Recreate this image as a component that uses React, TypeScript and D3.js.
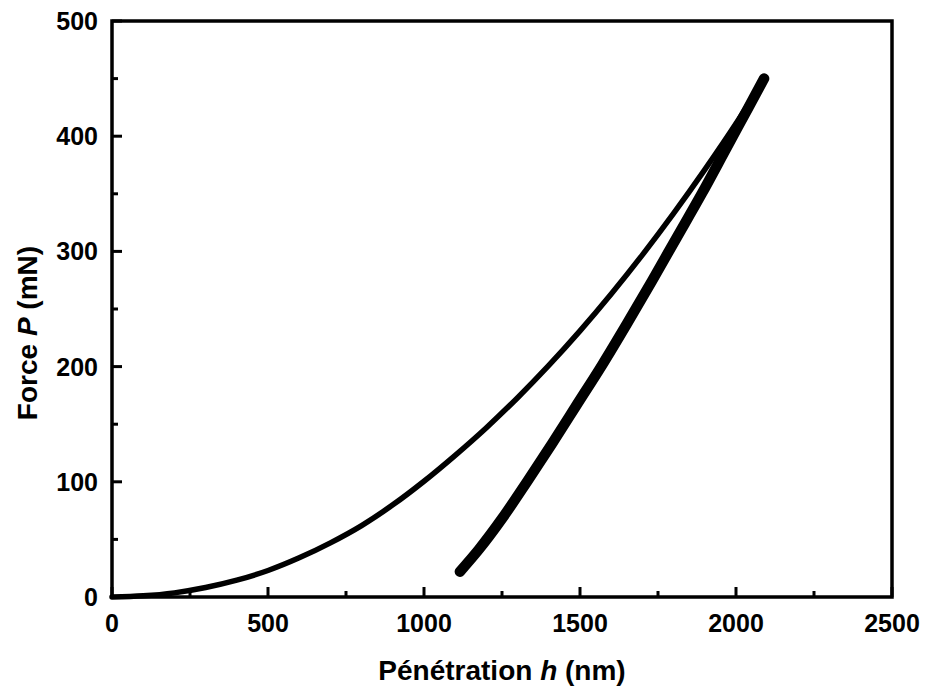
import { useEffect, useRef } from "react";
import * as d3 from "d3";

// loading branch
const loadH = [0, 100, 200, 300, 400, 500, 600, 700, 800, 900, 1000, 1100, 1200, 1300, 1400, 1500, 1600, 1700, 1800, 1900, 2000, 2090];
const loadP = [0, 1, 3.6, 8.2, 14.6, 23, 34, 47, 62, 80, 100.5, 123, 147, 173, 201, 231, 263, 297, 333, 371, 411, 450];

// unloading branch
const unloadH = [1115, 1175, 1250, 1330, 1410, 1490, 1570, 1650, 1730, 1810, 1890, 1970, 2040, 2090];
const unloadP = [22, 41, 68, 100, 133, 167, 201, 237, 274, 312, 350, 390, 425, 450];

const xTicks = [0, 500, 1000, 1500, 2000, 2500];
const yTicks = [0, 100, 200, 300, 400, 500];

const W = 926;
const H = 694;
const margin = { top: 21, right: 34, bottom: 97, left: 112 };
const font = "'Liberation Sans', Arial, sans-serif";

export default function App() {
  const svgRef = useRef<SVGSVGElement>(null);

  useEffect(() => {
    if (!svgRef.current) return;
    const svg = d3.select(svgRef.current);
    svg.selectAll("*").remove();

    const x = d3.scaleLinear().domain([0, 2500]).range([margin.left, W - margin.right]);
    const y = d3.scaleLinear().domain([0, 500]).range([H - margin.bottom, margin.top]);

    const line = d3
      .line<[number, number]>()
      .x((d) => x(d[0]))
      .y((d) => y(d[1]))
      .curve(d3.curveMonotoneX);

    const loading = loadH.map((h, i) => [h, loadP[i]] as [number, number]);
    const unloading = unloadH.map((h, i) => [h, unloadP[i]] as [number, number]);

    svg
      .append("path")
      .attr("d", line(unloading))
      .attr("fill", "none")
      .attr("stroke", "#000")
      .attr("stroke-width", 10.5)
      .attr("stroke-linecap", "round");

    svg
      .append("path")
      .attr("d", line(loading))
      .attr("fill", "none")
      .attr("stroke", "#000")
      .attr("stroke-width", 5.5)
      .attr("stroke-linecap", "round");

    // ticks (inward)
    const x0 = x(0), x1 = x(2500), y0 = y(0), y1 = y(500);
    const minorX = d3.range(250, 2500, 500);
    const minorY = d3.range(50, 500, 100);
    const tk = svg.append("g").attr("stroke", "#000").attr("stroke-width", 3);
    xTicks.forEach((v) => tk.append("line").attr("x1", x(v)).attr("x2", x(v)).attr("y1", y0).attr("y2", y0 - 10));
    minorX.forEach((v) => tk.append("line").attr("x1", x(v)).attr("x2", x(v)).attr("y1", y0).attr("y2", y0 - 6));
    yTicks.forEach((v) => tk.append("line").attr("x1", x0).attr("x2", x0 + 10).attr("y1", y(v)).attr("y2", y(v)));
    minorY.forEach((v) => tk.append("line").attr("x1", x0).attr("x2", x0 + 6).attr("y1", y(v)).attr("y2", y(v)));

    // frame
    svg
      .append("rect")
      .attr("x", x0)
      .attr("y", y1)
      .attr("width", x1 - x0)
      .attr("height", y0 - y1)
      .attr("fill", "none")
      .attr("stroke", "#000")
      .attr("stroke-width", 3.5);

    const lbl = svg
      .append("g")
      .style("font-family", font)
      .style("font-weight", "bold")
      .style("font-size", "25px")
      .attr("fill", "#000");

    xTicks.forEach((v) =>
      lbl.append("text").attr("x", x(v)).attr("y", y0 + 35).attr("text-anchor", "middle").text(v)
    );
    yTicks.forEach((v) =>
      lbl.append("text").attr("x", x0 - 14).attr("y", y(v)).attr("dy", "0.36em").attr("text-anchor", "end").text(v)
    );

    const xt = svg
      .append("text")
      .attr("x", (x0 + x1) / 2)
      .attr("y", 680)
      .attr("text-anchor", "middle")
      .style("font-family", font)
      .style("font-weight", "bold")
      .style("font-size", "28px");
    xt.append("tspan").text("Pénétration ");
    xt.append("tspan").style("font-style", "italic").text("h");
    xt.append("tspan").text(" (nm)");

    const yt = svg
      .append("text")
      .attr("transform", `translate(37,${(y0 + y1) / 2 + 24}) rotate(-90)`)
      .attr("text-anchor", "middle")
      .style("font-family", font)
      .style("font-weight", "bold")
      .style("font-size", "28px");
    yt.append("tspan").text("Force ");
    yt.append("tspan").style("font-style", "italic").text("P");
    yt.append("tspan").text(" (mN)");
  }, []);

  return (
    <svg
      ref={svgRef}
      width={W}
      height={H}
      viewBox={`0 0 ${W} ${H}`}
      style={{ position: "absolute", left: 0, top: 0, background: "#fff" }}
    />
  );
}
